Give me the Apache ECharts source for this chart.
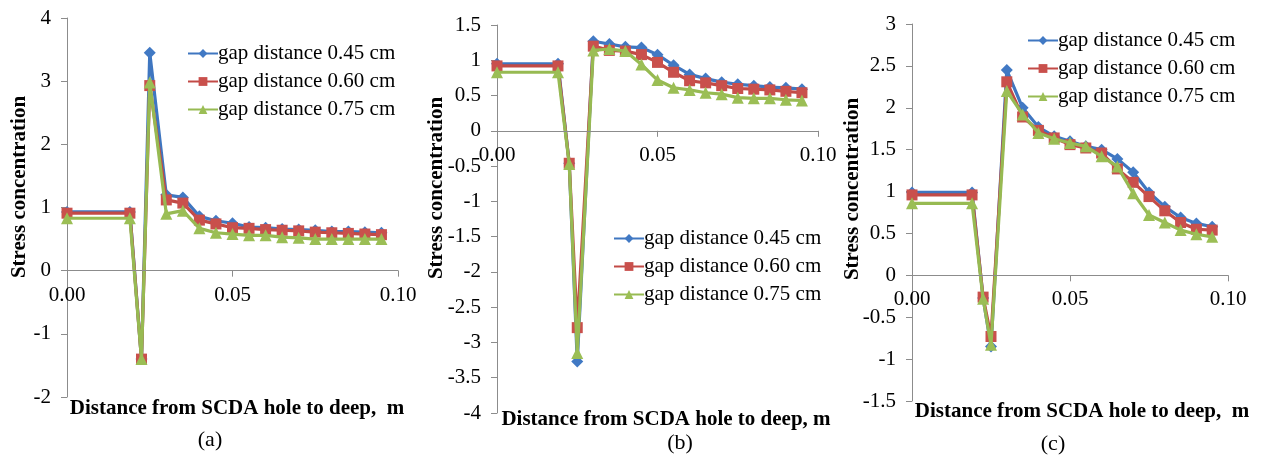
<!DOCTYPE html>
<html>
<head>
<meta charset="utf-8">
<script src="https://cdn.jsdelivr.net/npm/echarts@6/dist/echarts.min.js"></script>
<style>
  html, body { margin: 0; padding: 0; background: #fff; }
  #chart { width: 1265px; height: 455px; }
</style>
</head>
<body>
<div id="chart"></div>
<script>
// Distance from the SCDA hole (m) for each panel
const xA = [0, 0.019, 0.0225, 0.025, 0.03, 0.035, 0.04, 0.045, 0.05, 0.055, 0.06, 0.065, 0.07, 0.075, 0.08, 0.085, 0.09, 0.095];
const xB = [0, 0.019, 0.0225, 0.025, 0.03, 0.035, 0.04, 0.045, 0.05, 0.055, 0.06, 0.065, 0.07, 0.075, 0.08, 0.085, 0.09, 0.095];
const xC = [0, 0.019, 0.0225, 0.025, 0.03, 0.035, 0.04, 0.045, 0.05, 0.055, 0.06, 0.065, 0.07, 0.075, 0.08, 0.085, 0.09, 0.095];

// Stress concentration, panel (a)
const a45 = [0.93, 0.93, -1.40, 3.45, 1.20, 1.16, 0.86, 0.79, 0.75, 0.69, 0.68, 0.66, 0.65, 0.64, 0.62, 0.62, 0.61, 0.60];
const a60 = [0.91, 0.91, -1.40, 2.93, 1.12, 1.07, 0.80, 0.74, 0.68, 0.67, 0.65, 0.64, 0.63, 0.61, 0.60, 0.59, 0.58, 0.57];
const a75 = [0.83, 0.83, -1.40, 2.98, 0.90, 0.95, 0.67, 0.60, 0.58, 0.56, 0.56, 0.53, 0.52, 0.50, 0.50, 0.50, 0.50, 0.50];

// Stress concentration, panel (b)
const b45 = [0.95, 0.95, -0.46, -3.27, 1.27, 1.23, 1.19, 1.18, 1.08, 0.93, 0.80, 0.74, 0.69, 0.66, 0.64, 0.62, 0.61, 0.59];
const b60 = [0.92, 0.92, -0.46, -2.79, 1.20, 1.14, 1.13, 1.08, 0.97, 0.83, 0.71, 0.68, 0.64, 0.60, 0.59, 0.58, 0.56, 0.54];
const b75 = [0.83, 0.83, -0.47, -3.15, 1.14, 1.16, 1.13, 0.94, 0.72, 0.61, 0.58, 0.54, 0.52, 0.47, 0.46, 0.46, 0.44, 0.43];

// Stress concentration, panel (c)
const c45 = [0.99, 0.99, -0.27, -0.85, 2.45, 2.00, 1.77, 1.66, 1.60, 1.54, 1.50, 1.39, 1.23, 0.99, 0.82, 0.69, 0.62, 0.58];
const c60 = [0.96, 0.96, -0.26, -0.73, 2.31, 1.89, 1.73, 1.64, 1.56, 1.52, 1.46, 1.27, 1.11, 0.94, 0.77, 0.63, 0.55, 0.54];
const c75 = [0.86, 0.86, -0.28, -0.83, 2.20, 1.92, 1.70, 1.63, 1.58, 1.54, 1.42, 1.30, 0.98, 0.72, 0.63, 0.54, 0.49, 0.46];

const seriesNames = ['gap distance 0.45 cm', 'gap distance 0.60 cm', 'gap distance 0.75 cm'];
const captions = ['(a)', '(b)', '(c)'];
const yTitle = 'Stress concentration';
const xTitles = ['Distance from SCDA hole to deep,  m', 'Distance from SCDA hole to deep, m', 'Distance from SCDA hole to deep,  m'];

const SERIF = '"Liberation Serif", "Times New Roman", serif';
const lineColors = ['#3F76C0', '#C24A46', '#97BA52'];
const markColors = ['#4179C4', '#C9504C', '#9BBE55'];
const symbols = ['diamond', 'rect', 'triangle'];
const symbolSizes = [12, 11, 12];
const axisGrey = '#8c8c8c';

const panels = [
  { x: xA, ys: [a45, a60, a75], grid: { left: 67, top: 18, width: 331, height: 379 }, yMin: -2, yMax: 4, yStep: 1,
    legend: { left: 187, top: 43 }, yName: [20, 187], xName: [237, 409], cap: [210, 440] },
  { x: xB, ys: [b45, b60, b75], grid: { left: 497, top: 25, width: 321, height: 388 }, yMin: -4, yMax: 1.5, yStep: 0.5,
    legend: { left: 613, top: 228 }, yName: [437, 188], xName: [666, 420], cap: [680, 443] },
  { x: xC, ys: [c45, c60, c75], grid: { left: 912, top: 24, width: 316, height: 377 }, yMin: -1.5, yMax: 3, yStep: 0.5,
    legend: { left: 1027, top: 30 }, yName: [853, 189], xName: [1082, 412], cap: [1053, 444] }
];

const grid = [], xAxis = [], yAxis = [], series = [], legend = [], graphic = [];

panels.forEach((p, i) => {
  grid.push(Object.assign({ containLabel: false }, p.grid));
  // the x axis is lifted from the bottom of the grid to the y = 0 level of its panel
  const liftToZero = -p.grid.height * (0 - p.yMin) / (p.yMax - p.yMin);
  xAxis.push({
    type: 'value', gridIndex: i, min: 0, max: 0.1, interval: 0.05,
    position: 'bottom', offset: liftToZero,
    axisLine: { show: true, onZero: false, lineStyle: { color: axisGrey, width: 1 } },
    axisTick: { show: true, length: 6, lineStyle: { color: axisGrey } },
    splitLine: { show: false },
    axisLabel: { margin: 14, color: '#000', fontFamily: SERIF, fontSize: 21, formatter: v => v.toFixed(2) }
  });
  yAxis.push({
    type: 'value', gridIndex: i, min: p.yMin, max: p.yMax, interval: p.yStep,
    axisLine: { show: true, onZero: false, lineStyle: { color: axisGrey, width: 1 } },
    axisTick: { show: true, length: 6, lineStyle: { color: axisGrey } },
    splitLine: { show: false },
    axisLabel: { margin: 16, color: '#000', fontFamily: SERIF, fontSize: 21 }
  });
  p.ys.forEach((ys, k) => {
    const s = {
      name: seriesNames[k], type: 'line', xAxisIndex: i, yAxisIndex: i,
      data: p.x.map((xv, j) => [xv, ys[j]]),
      symbol: symbols[k], symbolSize: symbolSizes[k], showAllSymbol: true,
      lineStyle: { color: lineColors[k], width: 3.2 },
      itemStyle: { color: markColors[k], borderWidth: 0 },
      emphasis: { disabled: true }, animation: false, z: 2 + k
    };
    if (k === 0) {
      // zero reference line across the panel, under the data
      s.markLine = {
        silent: true, animation: false, symbol: ['none', 'none'], label: { show: false },
        lineStyle: { color: axisGrey, type: 'solid', width: 1 },
        emphasis: { disabled: true },
        data: [{ yAxis: 0 }]
      };
    }
    series.push(s);
  });
  legend.push({
    orient: 'vertical', left: p.legend.left, top: p.legend.top,
    itemWidth: 30, itemHeight: 11, itemGap: 7, padding: 0,
    data: seriesNames.map(n => ({ name: n })),
    textStyle: { fontFamily: SERIF, fontSize: 21, color: '#000', lineHeight: 21, padding: [0, 0, 0, -5] },
    selectedMode: false
  });
  graphic.push({
    type: 'text', x: p.yName[0], y: p.yName[1], rotation: Math.PI / 2,
    style: { text: yTitle, align: 'center', verticalAlign: 'middle', font: 'bold 21px ' + SERIF, fill: '#000' }
  });
  graphic.push({
    type: 'text', x: p.xName[0], y: p.xName[1],
    style: { text: xTitles[i], align: 'center', verticalAlign: 'middle', font: 'bold 21px ' + SERIF, fill: '#000' }
  });
  graphic.push({
    type: 'text', x: p.cap[0], y: p.cap[1],
    style: { text: captions[i], align: 'center', verticalAlign: 'middle', font: '22px ' + SERIF, fill: '#000' }
  });
});

const chart = echarts.init(document.getElementById('chart'), null, { renderer: 'canvas' });
chart.setOption({
  animation: false,
  backgroundColor: '#fff',
  grid, xAxis, yAxis, series, legend, graphic
});
</script>
</body>
</html>
